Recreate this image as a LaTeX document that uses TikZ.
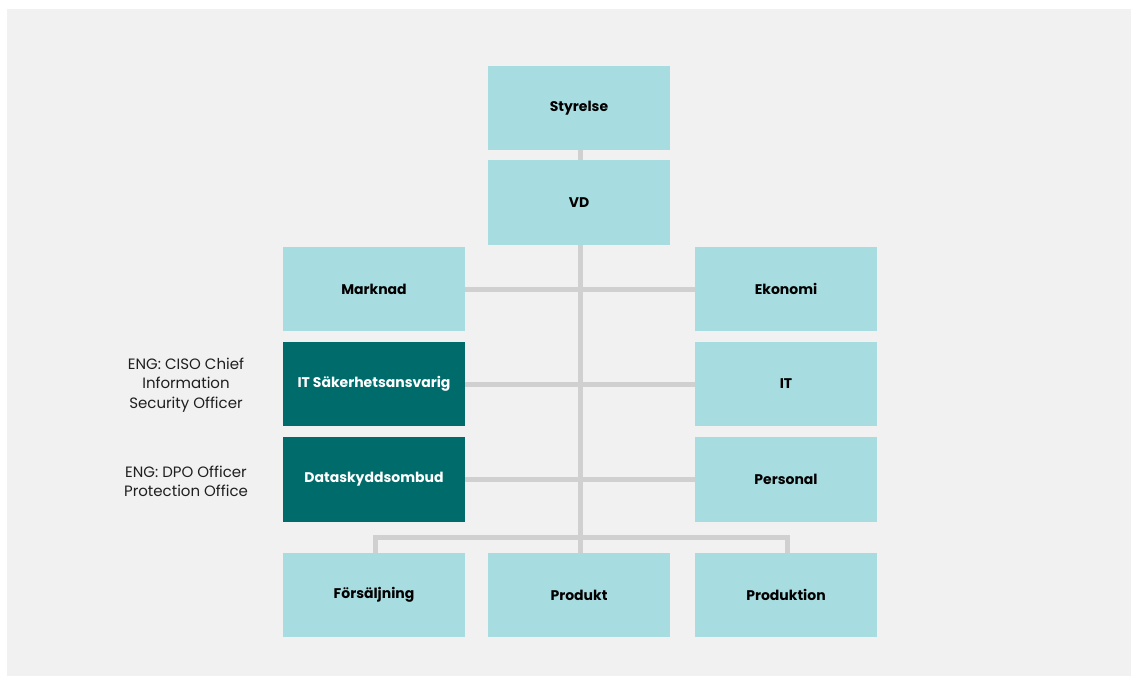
\documentclass[tikz,border=0pt]{standalone}
\usepackage{fontspec}
\setmainfont{Poppins}
\begin{document}
\begin{tikzpicture}[x=1pt,y=-1pt,
  box/.style={rectangle, fill=lightteal, minimum width=182pt, minimum height=84pt, inner sep=0pt,
    font=\fontsize{14}{16}\selectfont\bfseries, text=black},
  darkbox/.style={box, fill=darkteal, text=white},
  link/.style={draw=linkgray, line width=5pt},
  note/.style={align=center, font=\fontsize{15}{19.2}\selectfont, text=black!88}]
\definecolor{lightteal}{HTML}{A7DDE1}
\definecolor{darkteal}{HTML}{006B6B}
\definecolor{linkgray}{HTML}{D0D0D0}
\definecolor{panel}{HTML}{F1F1F1}
% page and panel
\useasboundingbox (0,0) rectangle (1131,677);
\fill[white] (0,0) rectangle (1131,677);
\fill[panel] (7,9) rectangle (1131,676);

% boxes
\node[box] (styrelse) at (579,108) {Styrelse};
\node[box, minimum height=85pt] (vd) at (579,202.5) {VD};
\node[box] (marknad) at (374,289) {Marknad};
\node[box] (ekonomi) at (786,289) {Ekonomi};
\node[darkbox] (itsak) at (374,384) {IT Säkerhetsansvarig};
\node[box] (it) at (786,384) {IT};
\node[darkbox, minimum height=85pt] (dso) at (374,479.5) {Dataskyddsombud};
\node[box, minimum height=85pt] (personal) at (786,479.5) {Personal};
\node[box] (fors) at (374,595) {Försäljning};
\node[box] (produkt) at (579,595) {Produkt};
\node[box] (prodn) at (786,595) {Produktion};

% notes
\node[note] (ciso) at (186,385) {ENG: CISO Chief\\Information\\Security Officer};
\node[note] (dpo) at (186,481) {ENG: DPO Officer\\Protection Office};

% connectors
\coordinate (bus) at (580,537);
\draw[link] ([xshift=1pt]styrelse.south) -- ([xshift=1pt]vd.north);
\draw[link] ([xshift=1pt]vd.south) -- ([xshift=1pt]produkt.north);
\draw[link] (marknad.east) -- (ekonomi.west);
\draw[link] (itsak.east) -- (it.west);
\draw[link] (dso.east) -- (personal.west);
\draw[link] ([xshift=1pt]fors.north) |- (bus) -| ([xshift=1pt]prodn.north);
\end{tikzpicture}
\end{document}
